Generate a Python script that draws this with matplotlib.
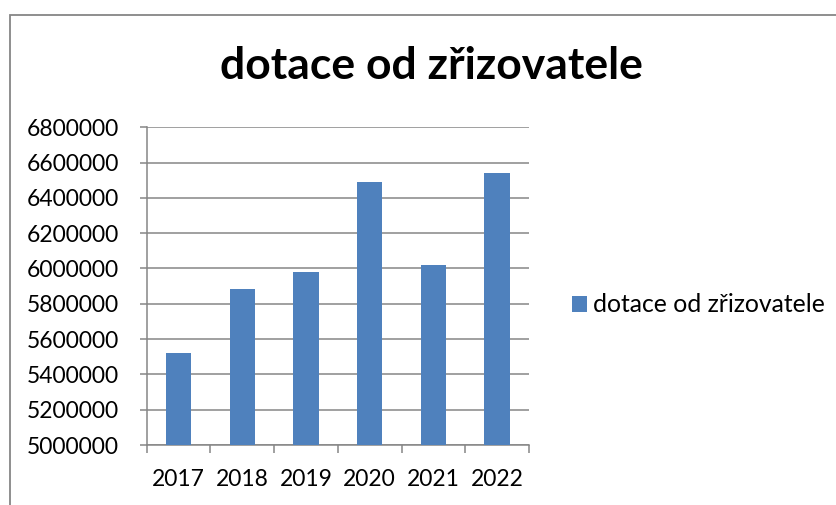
import matplotlib
matplotlib.use("Agg")
import matplotlib.pyplot as plt
from matplotlib.patches import Rectangle

plt.rcParams["font.family"] = ["Lato", "DejaVu Sans"]

years = ["2017", "2018", "2019", "2020", "2021", "2022"]
dotace = [5523000, 5886000, 5980000, 6490000, 6018000, 6539000]
y_ticks = list(range(5000000, 6800001, 200000))

BLUE = "#4F81BD"
GREY = "#868686"

fig = plt.figure(figsize=(8.37, 5.05), dpi=100)
ax = fig.add_axes([0.1753, 0.1188, 0.4567, 0.6292])

x = list(range(len(years)))
bars = ax.bar(x, dotace, width=0.4, color=BLUE, label="dotace od zřizovatele", zorder=3)

ax.set_xlim(-0.5, len(years) - 0.5)
ax.set_ylim(5000000, 6800000)
ax.set_yticks(y_ticks)
ax.set_yticklabels([str(v) for v in y_ticks])
ax.set_xticks(x)
ax.set_xticklabels(years)
ax.set_xticks([i - 0.5 for i in range(len(years) + 1)], minor=True)

ax.grid(axis="y", color=GREY, lw=1.1, zorder=0)
for side in ("top", "right"):
    ax.spines[side].set_visible(False)
for side in ("left", "bottom"):
    ax.spines[side].set_color(GREY)
    ax.spines[side].set_linewidth(1.1)

ax.tick_params(axis="y", length=5, color=GREY, width=1.1, labelsize=16.5, pad=15)
ax.tick_params(axis="x", which="major", length=0, labelsize=16.5, pad=17)
ax.tick_params(axis="x", which="minor", length=6, color=GREY, width=1.1)

fig.text(0.5 * (221.7 + 641.7) / 837, 1 - 66 / 505, "dotace od zřizovatele",
         ha="center", va="center", fontsize=32, fontweight="bold")

fig.legend(handles=[bars], labels=["dotace od zřizovatele"], loc="center left",
           bbox_to_anchor=(572 / 837, 1 - 305 / 505), frameon=False, fontsize=17.8,
           handlelength=0.62, handleheight=0.62, handletextpad=0.22,
           borderpad=0, borderaxespad=0)

fig.patches.append(Rectangle((9.5 / 837, -0.1), 1.2, (505 - 15) / 505 + 0.1,
                             transform=fig.transFigure, fill=False,
                             edgecolor=GREY, lw=1.3))

fig.savefig("out.png", dpi=100)
